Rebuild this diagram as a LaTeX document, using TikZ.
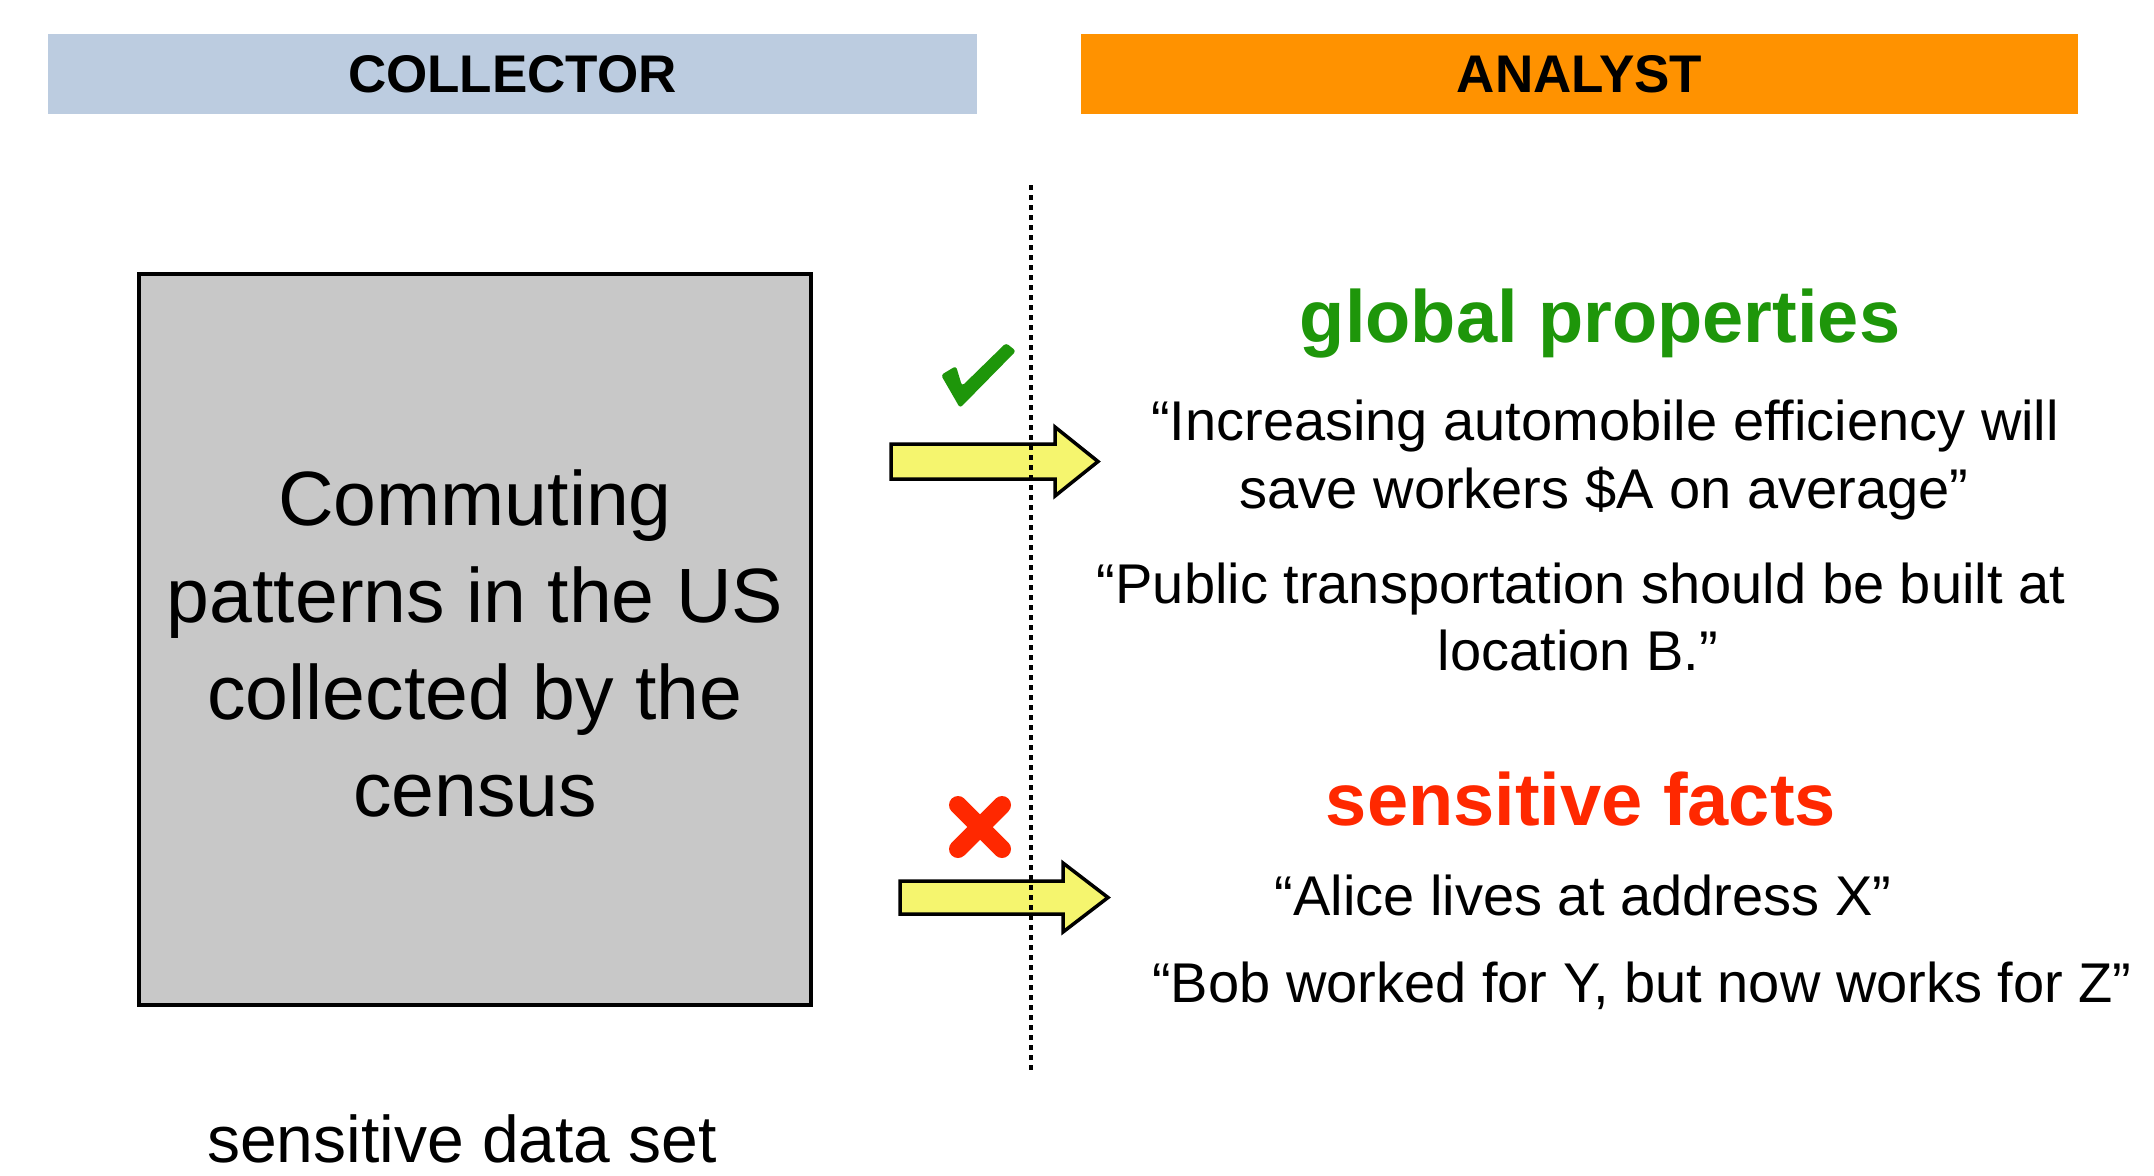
\documentclass[tikz,border=0pt]{standalone}
\usepackage{fontspec}
\setmainfont{Liberation Sans}
\definecolor{hdrblue}{RGB}{188,204,224}
\definecolor{hdrorange}{RGB}{255,146,0}
\definecolor{boxgray}{RGB}{200,200,200}
\definecolor{okgreen}{RGB}{30,150,10}
\definecolor{badred}{RGB}{255,40,0}
\definecolor{arrowyellow}{RGB}{245,245,110}
\begin{document}
\begin{tikzpicture}[x=1pt,y=-1pt,
  hdr/.style={inner sep=0pt, minimum height=80pt, font=\fontsize{53}{60}\selectfont\bfseries},
  boxline/.style={anchor=base, inner sep=0pt, font=\fontsize{77}{92}\selectfont},
  body/.style={anchor=base, inner sep=0pt, font=\fontsize{56}{68}\selectfont},
  heading/.style={anchor=base, inner sep=0pt, font=\fontsize{74}{80}\selectfont\bfseries},
  fatarrow/.style={draw=black, fill=arrowyellow, line width=3.5pt, line join=miter},
  divider/.style={line width=3.2pt, dash pattern=on 5pt off 5pt}]
\useasboundingbox[fill=white] (0,0) rectangle (2154,1175);

% headers
\node[hdr, fill=hdrblue, minimum width=929pt] (collector) at (512.5,74) {COLLECTOR};
\node[hdr, fill=hdrorange, minimum width=997pt] (analyst) at (1579.5,74) {ANALYST};

% data box
\node[draw=black, line width=4pt, fill=boxgray, inner sep=0pt,
      minimum width=672pt, minimum height=731pt] (data) at (474.5,639) {};
\node[boxline] (l1) at (475,525) {Commuting};
\node[boxline] (l2) at (475,622) {patterns in the US};
\node[boxline] (l3) at (475,719) {collected by the};
\node[boxline] (l4) at (475,816) {census};
\node[anchor=base, inner sep=0pt, font=\fontsize{66}{70}\selectfont] (sds) at (462,1162) {sensitive data set};

% arrows
\draw[fatarrow] (891,444) -- (1055,444) -- (1055,427) -- (1098,461.5) -- (1055,496) -- (1055,479) -- (891,479) -- cycle;
\draw[fatarrow] (900,881) -- (1063,881) -- (1063,863) -- (1108,897.5) -- (1063,932) -- (1063,914) -- (900,914) -- cycle;

% divider
\coordinate (dtop) at (1031,185);
\coordinate (dbot) at (1031,1072);
\draw[divider] (dtop) -- (dbot);

% check mark
\fill[okgreen, rounded corners=3pt] (941,375) -- (956,366) -- (962,386) -- (1006,343) -- (1016,351) -- (960,408) -- cycle;
% cross
\draw[badred, line width=18pt, line cap=round] (958,805) -- (1002,849);
\draw[badred, line width=18pt, line cap=round] (1002,805) -- (958,849);

% right texts
\node[heading, text=okgreen] (global) at (1600,342) {global properties};
\node[body] (g1) at (1605,440) {“Increasing automobile efficiency will};
\node[body] (g2) at (1604,508) {save workers \$A on average”};
\node[body] (g3) at (1581,603) {“Public transportation should be built at};
\node[body] (g4) at (1578,670) {location B.”};
\node[heading, text=badred] (sensitive) at (1581,825) {sensitive facts};
\node[body] (s1) at (1583,915) {“Alice lives at address X”};
\node[body] (s2) at (1642,1002) {“Bob worked for Y, but now works for Z”};
\end{tikzpicture}
\end{document}
